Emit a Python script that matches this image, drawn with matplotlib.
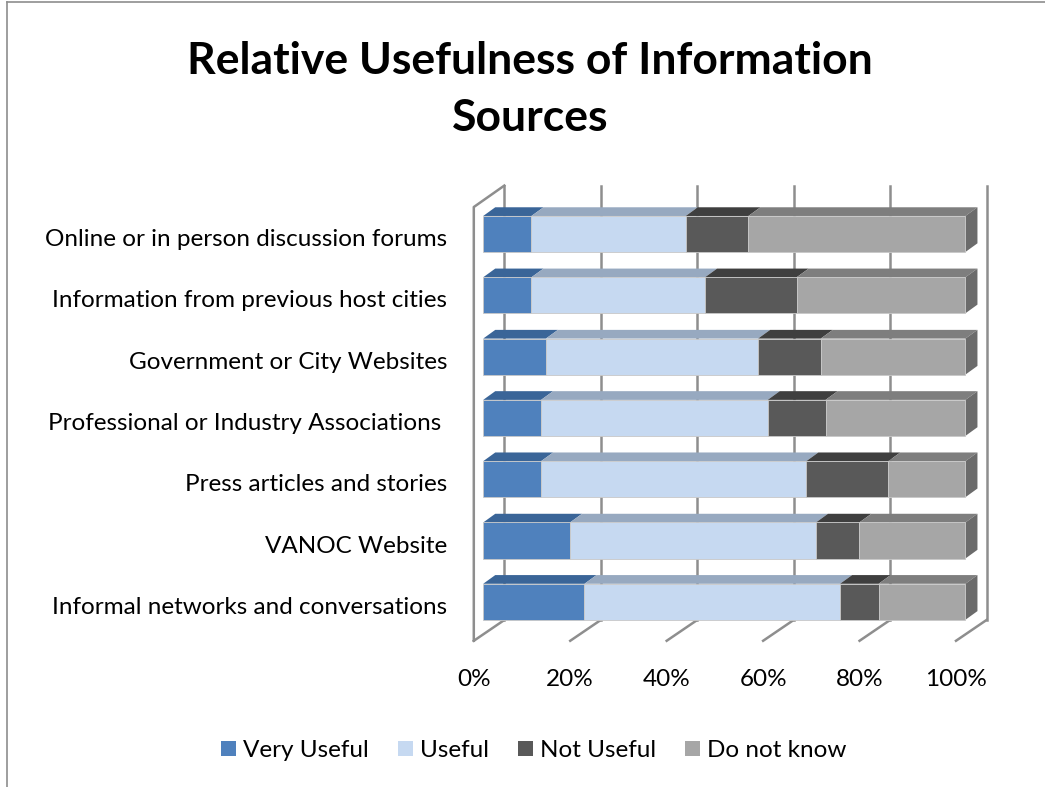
import numpy as np
import matplotlib.pyplot as plt
from matplotlib.patches import Polygon, Patch
from matplotlib.lines import Line2D

# Survey results, percent of respondents (top row first)
categories = ["Online or in person discussion forums",
              "Information from previous host cities",
              "Government or City Websites",
              "Professional or Industry Associations ",
              "Press articles and stories",
              "VANOC Website",
              "Informal networks and conversations"]
very_useful = [10, 10, 13, 12, 12, 18, 21]
useful = [32, 36, 44, 47, 55, 51, 53]
not_useful = [13, 19, 13, 12, 17, 9, 8]
do_not_know = [45, 35, 30, 29, 16, 22, 18]
series_names = ["Very Useful", "Useful", "Not Useful", "Do not know"]
tick_values = [0, 20, 40, 60, 80, 100]

front_colors = ["#4F81BD", "#C6D9F1", "#595959", "#A6A6A6"]
top_colors = ["#3A6598", "#97A9C0", "#3F3F3F", "#7E7E7E"]
side_color = "#6B6B6B"
wall_color = "#8E8E8E"

plt.rcParams['font.family'] = ['Lato', 'DejaVu Sans']

W, H = 1045, 787
fig = plt.figure(figsize=(W / 100, H / 100), dpi=100)
ax = fig.add_axes([0, 0, 1, 1])

# pixel scale of the plot: % along x, category rows along y
px_pct, x0 = 4.822, 483.2
px_row, y0 = 61.3, 601.8
ax.set_xlim(-x0 / px_pct, (W - x0) / px_pct)
ax.set_ylim((y0 - H) / px_row, y0 / px_row)
ax.axis('off')

n = len(categories)
rows = np.arange(n)[::-1]
half = 0.294            # half bar height (rows)
bdx, bdy = 2.5, 0.142   # bar depth offset
wdx = 4.38              # back wall offset from bar front
fdx = -1.95             # front floor offset
wall_top, wall_bot = 6.79, -0.297
front_top, front_bot = 6.44, -0.636

# back wall gridlines and floor lines
for v in tick_values:
    ax.plot([v + wdx, v + wdx], [wall_bot, wall_top], color=wall_color, lw=1.8, zorder=1)
    ax.plot([v + fdx, v + wdx], [front_bot, wall_bot], color=wall_color, lw=1.8, zorder=1)
# left side wall
ax.plot([fdx, fdx, wdx], [front_bot, front_top, wall_top], color=wall_color, lw=1.8, zorder=1)

data = np.array([very_useful, useful, not_useful, do_not_know], dtype=float)
lefts = np.vstack([np.zeros(n), np.cumsum(data, axis=0)[:-1]])

for k in range(4):
    ax.barh(rows, data[k], left=lefts[k], height=2 * half, color=front_colors[k],
            edgecolor="#C8C8C8", linewidth=0.6, zorder=3)
    for r, l, w in zip(rows, lefts[k], data[k]):
        top = r + half
        ax.add_patch(Polygon([(l, top), (l + w, top), (l + w + bdx, top + bdy), (l + bdx, top + bdy)],
                             closed=True, facecolor=top_colors[k], edgecolor="none", zorder=2.5))
# right end face
for r, l, w in zip(rows, lefts[3], data[3]):
    e = l + w
    ax.add_patch(Polygon([(e, r - half), (e + bdx, r - half + bdy), (e + bdx, r + half + bdy), (e, r + half)],
                         closed=True, facecolor=side_color, edgecolor="none", zorder=2.5))

# category labels
for r, name in zip(rows, categories):
    ax.text(-7.5, r - 0.196, name, ha='right', va='baseline', fontsize=17.5, color='black')

# percent axis labels
for v in tick_values:
    ax.text(v + fdx, -1.37, f"{v}%", ha='center', va='baseline', fontsize=17.5, color='black')

fig.text(0.507, 1 - 74 / H, "Relative Usefulness of Information", ha='center', va='baseline',
         fontsize=32, fontweight='bold')
fig.text(0.507, 1 - 131 / H, "Sources", ha='center', va='baseline',
         fontsize=32, fontweight='bold')

handles = [Patch(facecolor=c, edgecolor='none') for c in front_colors]
fig.legend(handles, series_names, loc='center', bbox_to_anchor=(534 / W, 1 - 750.5 / H),
           ncol=4, frameon=False, fontsize=17.5, handlelength=0.6, handleheight=0.6,
           handletextpad=0.3, columnspacing=1.2)

# chart area border
fig.add_artist(Line2D([7 / W, 7 / W], [0, 1 - 2 / H], color=wall_color, lw=1.2))
fig.add_artist(Line2D([7 / W, 1], [1 - 2 / H, 1 - 2 / H], color=wall_color, lw=1.2))

fig.savefig("out.png", dpi=100)
